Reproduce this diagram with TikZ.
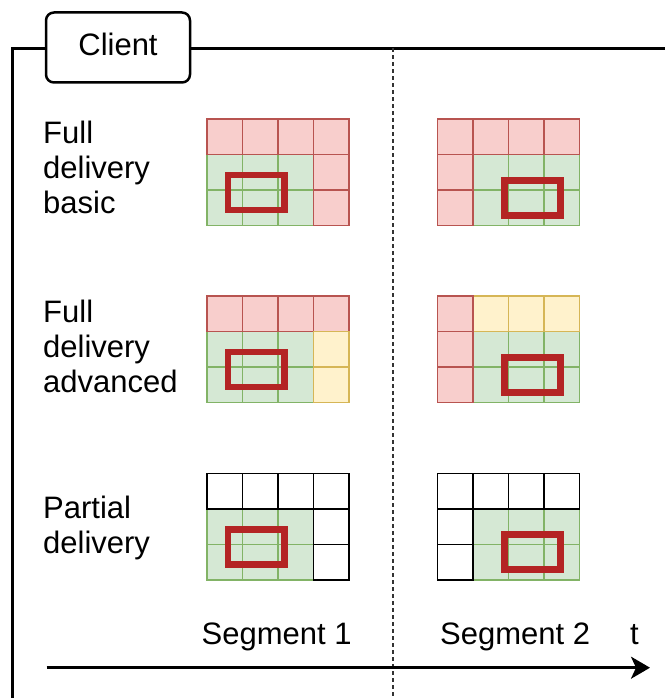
\documentclass[tikz,border=0pt]{standalone}
\usepackage{fontspec}
\setmainfont{Liberation Sans}
\usetikzlibrary{arrows.meta}
\definecolor{gfill}{HTML}{D5E8D4}\definecolor{gline}{HTML}{82B366}
\definecolor{rfill}{HTML}{F8CECC}\definecolor{rline}{HTML}{B85450}
\definecolor{yfill}{HTML}{FFF2CC}\definecolor{yline}{HTML}{D6B656}
\definecolor{focus}{RGB}{180,36,36}
\definecolor{dashc}{HTML}{333333}
\tikzset{
  gc/.style={fill=gfill,draw=gline,line width=1.4pt},
  rc/.style={fill=rfill,draw=rline,line width=1.4pt},
  yc/.style={fill=yfill,draw=yline,line width=1.4pt},
  wc/.style={fill=white,draw=black,line width=1.4pt},
  focusbox/.style={draw=focus,line width=6.8pt},
  lbl/.style={font=\fontsize{31}{35}\selectfont,align=left,anchor=base west,inner sep=0pt},
  seglbl/.style={font=\fontsize{31}{35}\selectfont,anchor=base west,inner sep=0pt},
  frame/.style={line width=2.5pt,black},
}
% \cellat{style}{col}{row}
\newcommand\cellat[3]{\path[#1] (#2*35.5,#3*35.5) rectangle ++(35.5,35.5);}
\begin{document}
\begin{tikzpicture}[x=1pt,y=-1pt]
\useasboundingbox (0,0) rectangle (664,698);
% frame
\draw[frame] (12.5,699) -- (12.5,48.3) -- (665,48.3);
\draw[dashc,line width=1.9pt,dash pattern=on 4pt off 3pt] (393,48.3) -- (393,699);
\node[draw,frame,fill=white,rounded corners=8pt,minimum width=144pt,minimum height=70pt,inner sep=0pt,
      text depth=6pt,font=\fontsize{31}{35}\selectfont] (client) at (118,47.5) {Client};
% row labels (anchored at the baseline of the last line)
\node[lbl] (fb) at (43,213) {Full\\delivery\\basic};
\node[lbl] (fa) at (43,392) {Full\\delivery\\advanced};
\node[lbl] (pd) at (43,553) {Partial\\delivery};
% grid 1
\begin{scope}[shift={(207,119)}]
 \foreach \c in {0,1,2}{\foreach \r in {1,2}{\cellat{gc}{\c}{\r}}}
 \foreach \c in {0,1,2,3}{\cellat{rc}{\c}{0}}
 \foreach \r in {1,2}{\cellat{rc}{3}{\r}}
 \draw[focusbox] (21,56) rectangle (77.5,91);
\end{scope}
% grid 2
\begin{scope}[shift={(437.3,119)}]
 \foreach \c in {1,2,3}{\foreach \r in {1,2}{\cellat{gc}{\c}{\r}}}
 \foreach \c in {0,1,2,3}{\cellat{rc}{\c}{0}}
 \foreach \r in {1,2}{\cellat{rc}{0}{\r}}
 \draw[focusbox] (67,61.5) rectangle (123.5,96.5);
\end{scope}
% grid 3
\begin{scope}[shift={(207,296)}]
 \foreach \c in {0,1,2}{\foreach \r in {1,2}{\cellat{gc}{\c}{\r}}}
 \foreach \c in {0,1,2,3}{\cellat{rc}{\c}{0}}
 \foreach \r in {1,2}{\cellat{yc}{3}{\r}}
 \draw[focusbox] (21,56) rectangle (77.5,91);
\end{scope}
% grid 4
\begin{scope}[shift={(437.3,296)}]
 \foreach \c in {1,2,3}{\foreach \r in {1,2}{\cellat{gc}{\c}{\r}}}
 \foreach \c in {1,2,3}{\cellat{yc}{\c}{0}}
 \foreach \r in {0,1,2}{\cellat{rc}{0}{\r}}
 \draw[focusbox] (67,61.5) rectangle (123.5,96.5);
\end{scope}
% grid 5
\begin{scope}[shift={(207,473.3)}]
 \foreach \c in {0,1,2}{\foreach \r in {1,2}{\cellat{gc}{\c}{\r}}}
 \foreach \c in {0,1,2,3}{\cellat{wc}{\c}{0}}
 \foreach \r in {1,2}{\cellat{wc}{3}{\r}}
 \draw[focusbox] (21,56) rectangle (77.5,91);
\end{scope}
% grid 6
\begin{scope}[shift={(437.3,473.3)}]
 \foreach \c in {1,2,3}{\foreach \r in {1,2}{\cellat{gc}{\c}{\r}}}
 \foreach \c in {0,1,2,3}{\cellat{wc}{\c}{0}}
 \foreach \r in {1,2}{\cellat{wc}{0}{\r}}
 \draw[focusbox] (67,61.5) rectangle (123.5,96.5);
\end{scope}
% time axis
\node[seglbl] (s1) at (201.5,644) {Segment 1};
\node[seglbl] (s2) at (440,644) {Segment 2};
\node[seglbl] (tl) at (630,644) {t};
\coordinate (ta) at (46.5,667.7);
\coordinate (tb) at (650,667.7);
\draw[line width=2.6pt,-{Stealth[length=19pt,width=22pt,inset=5pt]}] (ta) -- (tb);
\end{tikzpicture}
\end{document}
